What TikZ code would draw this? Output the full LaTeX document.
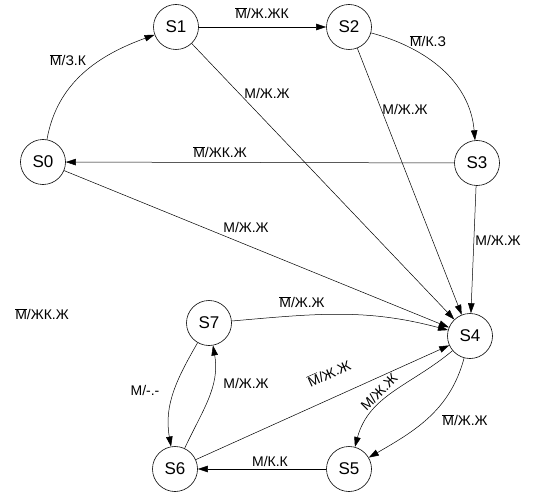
\documentclass[tikz,border=0pt]{standalone}
\usepackage{fontspec}
\setmainfont{Liberation Sans}
\usepackage{tikz}
\usetikzlibrary{arrows.meta}
\newcommand{\nM}{$\overline{\mbox{М}}$}

\begin{document}
\begin{tikzpicture}[x=1pt, y=1pt, line join=round,
    st/.style={circle, draw, line width=0.6pt, minimum size=45pt, inner sep=0pt,
               font=\fontsize{17}{17}\selectfont},
    lbl/.style={inner sep=0.5pt, font=\fontsize{14}{14}\selectfont},
    ar/.style={-{Triangle[length=10pt, width=6.5pt]}, line width=0.5pt}]
  \useasboundingbox (0,0) rectangle (548,496);
  % states
  \node[st] (s0) at (43,334)  {S0};
  \node[st] (s1) at (176,469) {S1};
  \node[st] (s2) at (349,469) {S2};
  \node[st] (s3) at (477,333) {S3};
  \node[st] (s4) at (470,160) {S4};
  \node[st] (s5) at (349,27)  {S5};
  \node[st] (s6) at (175,27)  {S6};
  \node[st] (s7) at (209,173) {S7};
  % transitions
  \draw[ar] (s0) to[out=80, in=200] (s1);
  \draw[ar] (s1) -- (s2);
  \draw[ar] (s2) to[out=-15, in=95] (s3);
  \draw[ar] (s1) -- (s4);
  \draw[ar] (s2) -- (s4);
  \draw[ar] (s3) -- (s0);
  \draw[ar] (s0) -- (s4);
  \draw[ar] (s3) -- (s4);
  \draw[ar] (s7) to[out=5, in=165] (s4);
  \draw[ar] (s7) to[out=240, in=100] (s6);
  \draw[ar] (s6) to[out=65, in=-80] (s7);
  \draw[ar] (s6) -- (s4);
  \draw[ar] (s4) to[out=220, in=75] (s5);
  \draw[ar] (s4) to[out=-105, in=30] (s5);
  \draw[ar] (s5) -- (s6);
  % labels
  \node[lbl] (l01) at (68,436)  {\nM/З.К};
  \node[lbl] (l12) at (262,483) {\nM/Ж.ЖК};
  \node[lbl] (l23) at (428,455) {\nM/К.З};
  \node[lbl] (l14) at (267,403) {М/Ж.Ж};
  \node[lbl] (l24) at (405,387) {М/Ж.Ж};
  \node[lbl] (l30) at (220,344) {\nM/ЖК.Ж};
  \node[lbl] (l04) at (246,269) {М/Ж.Ж};
  \node[lbl] (l34) at (498,256) {М/Ж.Ж};
  \node[lbl] (lxx) at (42,182)  {\nM/ЖК.Ж};
  \node[lbl] (l74) at (302,194) {\nM/Ж.Ж};
  \node[lbl] (l76) at (145,106) {М/-.-};
  \node[lbl] (l67) at (246,113) {М/Ж.Ж};
  \node[lbl, rotate=24] (l64) at (329,123) {\nM/Ж.Ж};
  \node[lbl, rotate=45] (l45a) at (379,104) {М/Ж.Ж};
  \node[lbl] (l45b) at (465,76) {\nM/Ж.Ж};
  \node[lbl] (l56) at (270,35)  {М/К.К};
\end{tikzpicture}
\end{document}
